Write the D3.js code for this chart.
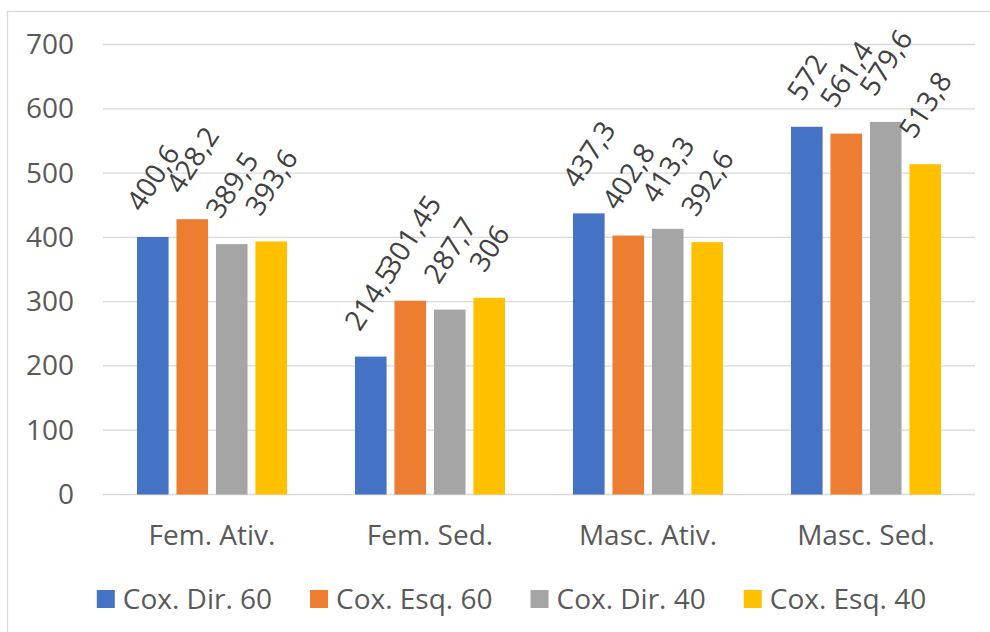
<!DOCTYPE html>
<html>
<head>
<meta charset="utf-8">
<script src="https://cdn.jsdelivr.net/npm/d3@7/dist/d3.min.js"></script>
<style>
  html, body { margin: 0; padding: 0; background: #fff; }
  svg { display: block; font-family: "Open Sans", sans-serif; }
</style>
</head>
<body>
<svg id="chart" width="990" height="632"></svg>
<script>
// Groups on the x axis
const categories = ["Fem. Ativ.", "Fem. Sed.", "Masc. Ativ.", "Masc. Sed."];
// One series per measurement
const seriesNames = ["Cox. Dir. 60", "Cox. Esq. 60", "Cox. Dir. 40", "Cox. Esq. 40"];
const seriesColors = ["#4472C4", "#ED7D31", "#A5A5A5", "#FFC000"];
// Values per series, in category order
const coxDir60 = [400.6, 214.5, 437.3, 572];
const coxEsq60 = [428.2, 301.45, 402.8, 561.4];
const coxDir40 = [389.5, 287.7, 413.3, 579.6];
const coxEsq40 = [393.6, 306, 392.6, 513.8];
// Printed labels (comma decimal separator)
const labelsDir60 = ["400,6", "214,5", "437,3", "572"];
const labelsEsq60 = ["428,2", "301,45", "402,8", "561,4"];
const labelsDir40 = ["389,5", "287,7", "413,3", "579,6"];
const labelsEsq40 = ["393,6", "306", "392,6", "513,8"];
const yTicks = [0, 100, 200, 300, 400, 500, 600, 700];

const seriesValues = [coxDir60, coxEsq60, coxDir40, coxEsq40];
const seriesLabels = [labelsDir60, labelsEsq60, labelsDir40, labelsEsq40];

const svg = d3.select("#chart");
const fontFamily = "'Open Sans', sans-serif";
const fontSize = 28;
const axisColor = "#595959";
const gridColor = "#D9D9D9";

// Outer chart frame
svg.append("rect")
  .attr("x", 7.5).attr("y", 11.5)
  .attr("width", 1000).attr("height", 700)
  .attr("fill", "none").attr("stroke", gridColor).attr("stroke-width", 1.3);

const plot = { left: 103, right: 975, top: 44.5, bottom: 494.5 };

const y = d3.scaleLinear().domain([0, 700]).range([plot.bottom, plot.top]);
const x0 = d3.scaleBand().domain(categories)
  .range([plot.left, plot.right])
  .paddingInner(0.312).paddingOuter(0.156);
const x1 = d3.scaleBand().domain(seriesNames)
  .range([0, x0.bandwidth()])
  .paddingInner(0.2).paddingOuter(0);

// Horizontal gridlines
svg.append("g").selectAll("line").data(yTicks).join("line")
  .attr("x1", plot.left).attr("x2", plot.right)
  .attr("y1", d => y(d)).attr("y2", d => y(d))
  .attr("stroke", gridColor).attr("stroke-width", 1.3);

// Y axis labels
const yAxis = d3.axisLeft(y).tickValues(yTicks).tickSize(0).tickPadding(0);
const gy = svg.append("g").attr("transform", "translate(74,0)").call(yAxis);
gy.select(".domain").remove();
gy.selectAll("text")
  .attr("font-family", fontFamily)
  .attr("font-size", fontSize).attr("fill", axisColor);

// X axis category labels
const xAxis = d3.axisBottom(x0).tickSize(0).tickPadding(0);
const gx = svg.append("g").attr("transform", `translate(0,${plot.bottom})`).call(xAxis);
gx.select(".domain").remove();
gx.selectAll("text")
  .attr("font-family", fontFamily)
  .attr("font-size", fontSize).attr("fill", axisColor)
  .attr("dy", null).attr("y", 50);

// Bars
const barData = [];
categories.forEach((c, ci) => {
  seriesNames.forEach((s, si) => {
    barData.push({ cat: c, series: s, si, value: seriesValues[si][ci], label: seriesLabels[si][ci] });
  });
});

const bars = svg.append("g");
bars.selectAll("rect").data(barData).join("rect")
  .attr("x", d => x0(d.cat) + x1(d.series))
  .attr("y", d => y(d.value))
  .attr("width", x1.bandwidth())
  .attr("height", d => y(0) - y(d.value))
  .attr("fill", d => seriesColors[d.si]);

// Rotated value labels, centred above each bar
const angle = 57;
const rad = angle * Math.PI / 180;
const capH = fontSize * 0.72;
const gap = 24;
const labelG = svg.append("g");
labelG.selectAll("text").data(barData).join("text")
  .attr("font-family", fontFamily)
  .attr("font-size", fontSize)
  .attr("fill", "#404040")
  .attr("text-anchor", "middle")
  .attr("dy", "0.36em")
  .text(d => d.label)
  .each(function (d) {
    const L = this.getComputedTextLength();
    const H = L * Math.sin(rad) + capH * Math.cos(rad);
    const cx = x0(d.cat) + x1(d.series) + x1.bandwidth() / 2;
    const cy = y(d.value) - gap - H / 2;
    d3.select(this).attr("transform", `translate(${cx},${cy}) rotate(${-angle})`);
  });

// Legend
const legend = svg.append("g");
const items = legend.selectAll("g").data(seriesNames).join("g");
items.append("rect")
  .attr("width", 18).attr("height", 18)
  .attr("y", -9)
  .attr("fill", (d, i) => seriesColors[i]);
items.append("text")
  .attr("x", 26).attr("dy", "0.36em")
  .attr("font-family", fontFamily)
  .attr("font-size", fontSize).attr("fill", axisColor)
  .text(d => d);
const itemGap = 38;
const widths = [];
items.each(function () { widths.push(this.getBBox().width); });
const totalW = d3.sum(widths) + itemGap * (widths.length - 1);
const legendStart = 511.5 - totalW / 2;
items.attr("transform", (d, i) => {
  const tx = legendStart + d3.sum(widths.slice(0, i)) + itemGap * i;
  return `translate(${tx},599)`;
});
</script>
</body>
</html>
